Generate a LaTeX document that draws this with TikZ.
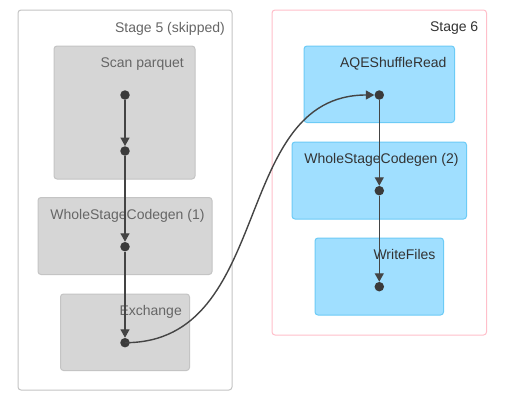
\documentclass[tikz,border=0pt]{standalone}
\usepackage{fontspec}
\setmainfont{Liberation Sans}
\usetikzlibrary{arrows.meta}
\definecolor{skipfill}{HTML}{D6D6D6}
\definecolor{skipline}{HTML}{C4C4C4}
\definecolor{skiptext}{HTML}{666666}
\definecolor{livefill}{HTML}{A0DFFF}
\definecolor{liveline}{HTML}{6CCBF6}
\definecolor{stagepink}{HTML}{FFBFCA}
\definecolor{edgecol}{HTML}{444444}
\definecolor{dotcol}{HTML}{3A3A3A}
\begin{document}
\begin{tikzpicture}[x=1pt,y=-1pt,
  every node/.style={font=\fontsize{14}{16}\selectfont},
  cluster/.style={rounded corners=3pt,line width=1pt},
  skipped/.style={cluster,draw=skipline,fill=skipfill},
  live/.style={cluster,draw=liveline,fill=livefill},
  lbl/.style={anchor=base east,inner sep=0pt},
  pt/.style={circle,fill=dotcol,inner sep=0pt,minimum size=9.5pt},
  flow/.style={draw=edgecol,line width=1.4pt,-{Triangle[length=8.5pt,width=9pt]}}]
\useasboundingbox (0,0) rectangle (507,402);

% stage outlines
\draw[cluster,draw=skipline,fill=white] (18,10) rectangle (232,390);
\node[lbl,text=skiptext] (s5) at (225,32) {Stage 5 (skipped)};
\draw[cluster,draw=stagepink,fill=white] (272,10) rectangle (486.5,335);
\node[lbl,text=black!80] (s6) at (478.5,31.7) {Stage 6};

% operators of stage 5
\draw[skipped] (54,46) rectangle (195,179);
\node[lbl,text=skiptext] (scanl) at (184,67.3) {Scan parquet};
\draw[skipped] (38,197.5) rectangle (212,274.5);
\node[lbl,text=skiptext] (wsc1l) at (204.7,219.3) {WholeStageCodegen (1)};
\draw[skipped] (60.5,294) rectangle (189.5,370.5);
\node[lbl,text=skiptext] (exl) at (182,315) {Exchange};

% operators of stage 6
\draw[live] (304,46) rectangle (454.5,122.5);
\node[lbl,text=black!80] (aqel) at (446.7,67.3) {AQEShuffleRead};
\draw[live] (292,142) rectangle (466.5,219);
\node[lbl,text=black!80] (wsc2l) at (458.7,163.3) {WholeStageCodegen (2)};
\draw[live] (315,238) rectangle (443.5,315);
\node[lbl,text=black!80] (wfl) at (435.7,259.3) {WriteFiles};

% data points
\node[pt] (scan) at (125,95) {};
\node[pt] (col1) at (125,151) {};
\node[pt] (wsc1) at (125,246.7) {};
\node[pt] (ex) at (125,342.7) {};
\node[pt] (aqe) at (379.3,95) {};
\node[pt] (wsc2) at (379.3,190.7) {};
\node[pt] (wf) at (379.3,286.7) {};

% edges
\draw[flow] (scan) -- (col1);
\draw[flow] (col1) -- (wsc1);
\draw[flow] (wsc1) -- (ex);
\draw[flow] (ex.center) .. controls (275,342.7) and (230,95) .. (aqe);
\draw[flow] (aqe) -- (wsc2);
\draw[flow] (wsc2) -- (wf);
\end{tikzpicture}
\end{document}
